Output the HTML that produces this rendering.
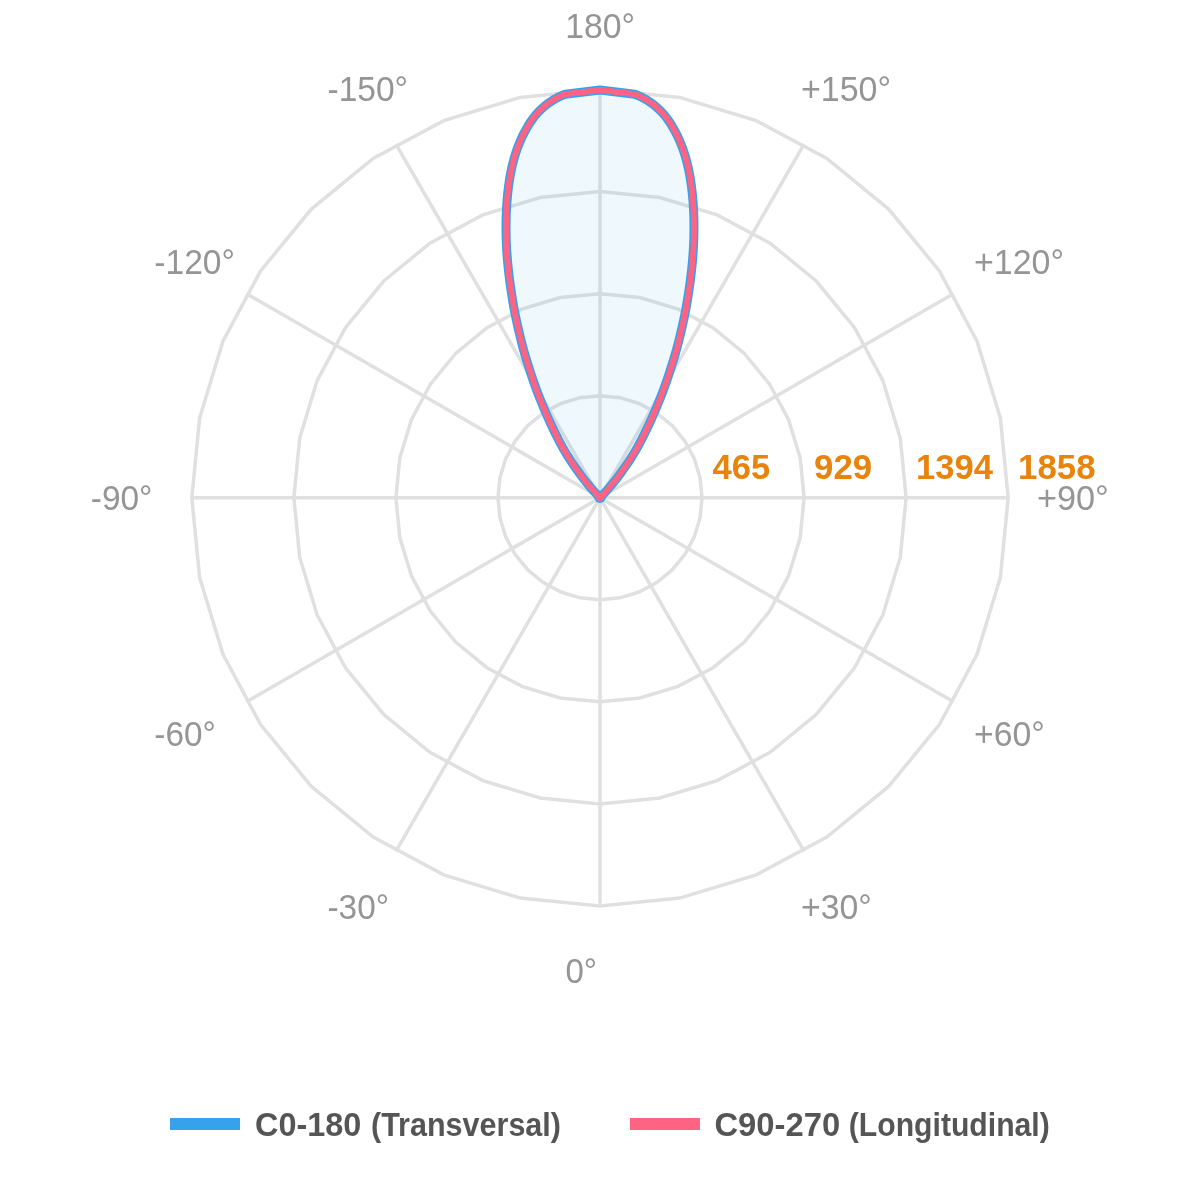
<!DOCTYPE html>
<html><head><meta charset="utf-8"><title>Polar chart</title>
<style>
html,body{margin:0;padding:0;background:#fff;}
body{width:1200px;height:1200px;overflow:hidden;font-family:"Liberation Sans",sans-serif;}
svg{display:block;will-change:transform;}
text{font-family:"Liberation Sans",sans-serif;}
.al{font-size:35.5px;fill:#959595;}
.tk{font-size:35.3px;font-weight:bold;fill:#e8830c;}
.lg{font-size:33.4px;font-weight:bold;fill:#555555;}
</style></head><body>
<svg width="1200" height="1200" viewBox="0 0 1200 1200">
<rect width="1200" height="1200" fill="#ffffff"/>
<g fill="none" stroke="#e0e0e0" stroke-width="3.5" stroke-linejoin="miter">
<polygon points="600.00,395.70 619.91,397.66 639.05,403.47 656.70,412.90 672.16,425.59 684.85,441.05 694.28,458.70 700.09,477.84 702.05,497.75 700.09,517.66 694.28,536.80 684.85,554.45 672.16,569.91 656.70,582.60 639.05,592.03 619.91,597.84 600.00,599.80 580.09,597.84 560.95,592.03 543.30,582.60 527.84,569.91 515.15,554.45 505.72,536.80 499.91,517.66 497.95,497.75 499.91,477.84 505.72,458.70 515.15,441.05 527.84,425.59 543.30,412.90 560.95,403.47 580.09,397.66"/>
<polygon points="600.00,293.65 639.82,297.57 678.11,309.19 713.39,328.05 744.32,353.43 769.70,384.36 788.56,419.64 800.18,457.93 804.10,497.75 800.18,537.57 788.56,575.86 769.70,611.14 744.32,642.07 713.39,667.45 678.11,686.31 639.82,697.93 600.00,701.85 560.18,697.93 521.89,686.31 486.61,667.45 455.68,642.07 430.30,611.14 411.44,575.86 399.82,537.57 395.90,497.75 399.82,457.93 411.44,419.64 430.30,384.36 455.68,353.43 486.61,328.05 521.89,309.19 560.18,297.57"/>
<polygon points="600.00,191.60 659.73,197.48 717.16,214.90 770.09,243.20 816.48,281.27 854.55,327.66 882.85,380.59 900.27,438.02 906.15,497.75 900.27,557.48 882.85,614.91 854.55,667.84 816.48,714.23 770.09,752.30 717.16,780.60 659.73,798.02 600.00,803.90 540.27,798.02 482.84,780.60 429.91,752.30 383.52,714.23 345.45,667.84 317.15,614.91 299.73,557.48 293.85,497.75 299.73,438.02 317.15,380.59 345.45,327.66 383.52,281.27 429.91,243.20 482.84,214.90 540.27,197.48"/>
<polygon points="600.00,89.55 679.64,97.39 756.21,120.62 826.78,158.34 888.64,209.11 939.41,270.97 977.13,341.54 1000.36,418.11 1008.20,497.75 1000.36,577.39 977.13,653.96 939.41,724.53 888.64,786.39 826.78,837.16 756.21,874.88 679.64,898.11 600.00,905.95 520.36,898.11 443.79,874.88 373.22,837.16 311.36,786.39 260.59,724.53 222.87,653.96 199.64,577.39 191.80,497.75 199.64,418.11 222.87,341.54 260.59,270.97 311.36,209.11 373.22,158.34 443.79,120.62 520.36,97.39"/>
<line x1="600.0" y1="497.75" x2="600.00" y2="89.55"/>
<line x1="600.0" y1="497.75" x2="804.10" y2="144.24"/>
<line x1="600.0" y1="497.75" x2="953.51" y2="293.65"/>
<line x1="600.0" y1="497.75" x2="1008.20" y2="497.75"/>
<line x1="600.0" y1="497.75" x2="953.51" y2="701.85"/>
<line x1="600.0" y1="497.75" x2="804.10" y2="851.26"/>
<line x1="600.0" y1="497.75" x2="600.00" y2="905.95"/>
<line x1="600.0" y1="497.75" x2="395.90" y2="851.26"/>
<line x1="600.0" y1="497.75" x2="246.49" y2="701.85"/>
<line x1="600.0" y1="497.75" x2="191.80" y2="497.75"/>
<line x1="600.0" y1="497.75" x2="246.49" y2="293.65"/>
<line x1="600.0" y1="497.75" x2="395.90" y2="144.24"/>
</g>
<path d="M600.00,497.75 L597.75,495.40 L595.53,493.03 L593.36,490.62 L591.23,488.19 L589.13,485.73 L587.08,483.24 L585.07,480.72 L583.09,478.18 L581.15,475.62 L579.25,473.03 L577.39,470.42 L575.51,467.78 L573.67,465.12 L571.86,462.44 L570.08,459.74 L568.34,457.01 L566.63,454.27 L564.95,451.50 L563.33,448.72 L561.78,445.92 L560.26,443.10 L558.77,440.26 L557.31,437.40 L555.88,434.53 L554.47,431.65 L553.07,428.75 L551.68,425.83 L550.30,422.91 L548.95,419.97 L547.63,417.02 L546.32,414.05 L545.04,411.08 L543.78,408.10 L542.54,405.11 L541.32,402.11 L540.11,399.11 L538.92,396.10 L537.75,393.08 L536.60,390.05 L535.50,387.02 L534.41,383.98 L533.35,380.94 L532.30,377.89 L531.27,374.84 L530.25,371.78 L529.25,368.71 L528.28,365.64 L527.31,362.56 L526.37,359.48 L525.44,356.39 L524.53,353.30 L523.64,350.20 L522.81,347.10 L521.99,343.99 L521.20,340.88 L520.42,337.77 L519.66,334.65 L518.92,331.52 L518.19,328.39 L517.48,325.26 L516.79,322.12 L516.12,318.98 L515.47,315.84 L514.83,312.69 L514.22,309.54 L513.65,306.39 L513.10,303.23 L512.57,300.07 L512.06,296.90 L511.57,293.73 L511.10,290.56 L510.63,287.39 L510.17,284.21 L509.74,281.03 L509.33,277.85 L508.95,274.66 L508.59,271.47 L508.24,268.28 L507.91,265.08 L507.61,261.88 L507.33,258.68 L507.07,255.48 L506.85,252.28 L506.65,249.07 L506.48,245.86 L506.34,242.64 L506.22,239.43 L506.14,236.21 L506.08,232.99 L506.06,229.77 L506.04,226.55 L506.05,223.32 L506.10,220.09 L506.17,216.86 L506.28,213.63 L506.42,210.40 L506.60,207.16 L506.81,203.92 L507.05,200.69 L507.33,197.45 L507.64,194.21 L507.99,190.96 L508.37,187.73 L508.80,184.49 L509.27,181.26 L509.78,178.05 L510.35,174.84 L510.96,171.65 L511.62,168.47 L512.34,165.31 L513.12,162.17 L513.95,159.05 L514.85,155.95 L515.80,152.88 L516.82,149.84 L517.91,146.83 L519.07,143.85 L520.29,140.91 L521.59,138.00 L522.96,135.13 L524.41,132.32 L525.93,129.55 L527.45,126.83 L529.05,124.18 L530.75,121.58 L532.53,119.06 L534.40,116.60 L536.36,114.22 L538.42,111.92 L540.64,109.70 L542.96,107.57 L545.37,105.53 L547.88,103.59 L550.50,101.75 L553.22,100.01 L556.05,98.39 L558.99,96.87 L562.04,95.47 L565.20,94.20 L600.00,90.00 L634.80,94.20 L637.96,95.47 L641.01,96.87 L643.95,98.39 L646.78,100.01 L649.50,101.75 L652.12,103.59 L654.63,105.53 L657.04,107.57 L659.36,109.70 L661.58,111.92 L663.64,114.22 L665.60,116.60 L667.47,119.06 L669.25,121.58 L670.95,124.18 L672.55,126.83 L674.07,129.55 L675.59,132.32 L677.04,135.13 L678.41,138.00 L679.71,140.91 L680.93,143.85 L682.09,146.83 L683.18,149.84 L684.20,152.88 L685.15,155.95 L686.05,159.05 L686.88,162.17 L687.66,165.31 L688.38,168.47 L689.04,171.65 L689.65,174.84 L690.22,178.05 L690.73,181.26 L691.20,184.49 L691.63,187.73 L692.01,190.96 L692.36,194.21 L692.67,197.45 L692.95,200.69 L693.19,203.92 L693.40,207.16 L693.58,210.40 L693.72,213.63 L693.83,216.86 L693.90,220.09 L693.95,223.32 L693.96,226.55 L693.94,229.77 L693.92,232.99 L693.86,236.21 L693.78,239.43 L693.66,242.64 L693.52,245.86 L693.35,249.07 L693.15,252.28 L692.93,255.48 L692.67,258.68 L692.39,261.88 L692.09,265.08 L691.76,268.28 L691.41,271.47 L691.05,274.66 L690.67,277.85 L690.26,281.03 L689.83,284.21 L689.37,287.39 L688.90,290.56 L688.43,293.73 L687.94,296.90 L687.43,300.07 L686.90,303.23 L686.35,306.39 L685.78,309.54 L685.17,312.69 L684.53,315.84 L683.88,318.98 L683.21,322.12 L682.52,325.26 L681.81,328.39 L681.08,331.52 L680.34,334.65 L679.58,337.77 L678.80,340.88 L678.01,343.99 L677.19,347.10 L676.36,350.20 L675.47,353.30 L674.56,356.39 L673.63,359.48 L672.69,362.56 L671.72,365.64 L670.75,368.71 L669.75,371.78 L668.73,374.84 L667.70,377.89 L666.65,380.94 L665.59,383.98 L664.50,387.02 L663.40,390.05 L662.25,393.08 L661.08,396.10 L659.89,399.11 L658.68,402.11 L657.46,405.11 L656.22,408.10 L654.96,411.08 L653.68,414.05 L652.37,417.02 L651.05,419.97 L649.70,422.91 L648.32,425.83 L646.93,428.75 L645.53,431.65 L644.12,434.53 L642.69,437.40 L641.23,440.26 L639.74,443.10 L638.22,445.92 L636.67,448.72 L635.05,451.50 L633.37,454.27 L631.66,457.01 L629.92,459.74 L628.14,462.44 L626.33,465.12 L624.49,467.78 L622.61,470.42 L620.75,473.03 L618.85,475.62 L616.91,478.18 L614.93,480.72 L612.92,483.24 L610.87,485.73 L608.77,488.19 L606.64,490.62 L604.47,493.03 L602.25,495.40 L600.00,497.75 Z" fill="rgba(54,162,235,0.08)" stroke="none"/>
<path d="M600.00,497.75 L597.75,495.40 L595.53,493.03 L593.36,490.62 L591.23,488.19 L589.13,485.73 L587.08,483.24 L585.07,480.72 L583.09,478.18 L581.15,475.62 L579.25,473.03 L577.39,470.42 L575.51,467.78 L573.67,465.12 L571.86,462.44 L570.08,459.74 L568.34,457.01 L566.63,454.27 L564.95,451.50 L563.33,448.72 L561.78,445.92 L560.26,443.10 L558.77,440.26 L557.31,437.40 L555.88,434.53 L554.47,431.65 L553.07,428.75 L551.68,425.83 L550.30,422.91 L548.95,419.97 L547.63,417.02 L546.32,414.05 L545.04,411.08 L543.78,408.10 L542.54,405.11 L541.32,402.11 L540.11,399.11 L538.92,396.10 L537.75,393.08 L536.60,390.05 L535.50,387.02 L534.41,383.98 L533.35,380.94 L532.30,377.89 L531.27,374.84 L530.25,371.78 L529.25,368.71 L528.28,365.64 L527.31,362.56 L526.37,359.48 L525.44,356.39 L524.53,353.30 L523.64,350.20 L522.81,347.10 L521.99,343.99 L521.20,340.88 L520.42,337.77 L519.66,334.65 L518.92,331.52 L518.19,328.39 L517.48,325.26 L516.79,322.12 L516.12,318.98 L515.47,315.84 L514.83,312.69 L514.22,309.54 L513.65,306.39 L513.10,303.23 L512.57,300.07 L512.06,296.90 L511.57,293.73 L511.10,290.56 L510.63,287.39 L510.17,284.21 L509.74,281.03 L509.33,277.85 L508.95,274.66 L508.59,271.47 L508.24,268.28 L507.91,265.08 L507.61,261.88 L507.33,258.68 L507.07,255.48 L506.85,252.28 L506.65,249.07 L506.48,245.86 L506.34,242.64 L506.22,239.43 L506.14,236.21 L506.08,232.99 L506.06,229.77 L506.04,226.55 L506.05,223.32 L506.10,220.09 L506.17,216.86 L506.28,213.63 L506.42,210.40 L506.60,207.16 L506.81,203.92 L507.05,200.69 L507.33,197.45 L507.64,194.21 L507.99,190.96 L508.37,187.73 L508.80,184.49 L509.27,181.26 L509.78,178.05 L510.35,174.84 L510.96,171.65 L511.62,168.47 L512.34,165.31 L513.12,162.17 L513.95,159.05 L514.85,155.95 L515.80,152.88 L516.82,149.84 L517.91,146.83 L519.07,143.85 L520.29,140.91 L521.59,138.00 L522.96,135.13 L524.41,132.32 L525.93,129.55 L527.45,126.83 L529.05,124.18 L530.75,121.58 L532.53,119.06 L534.40,116.60 L536.36,114.22 L538.42,111.92 L540.64,109.70 L542.96,107.57 L545.37,105.53 L547.88,103.59 L550.50,101.75 L553.22,100.01 L556.05,98.39 L558.99,96.87 L562.04,95.47 L565.20,94.20 L600.00,90.00 L634.80,94.20 L637.96,95.47 L641.01,96.87 L643.95,98.39 L646.78,100.01 L649.50,101.75 L652.12,103.59 L654.63,105.53 L657.04,107.57 L659.36,109.70 L661.58,111.92 L663.64,114.22 L665.60,116.60 L667.47,119.06 L669.25,121.58 L670.95,124.18 L672.55,126.83 L674.07,129.55 L675.59,132.32 L677.04,135.13 L678.41,138.00 L679.71,140.91 L680.93,143.85 L682.09,146.83 L683.18,149.84 L684.20,152.88 L685.15,155.95 L686.05,159.05 L686.88,162.17 L687.66,165.31 L688.38,168.47 L689.04,171.65 L689.65,174.84 L690.22,178.05 L690.73,181.26 L691.20,184.49 L691.63,187.73 L692.01,190.96 L692.36,194.21 L692.67,197.45 L692.95,200.69 L693.19,203.92 L693.40,207.16 L693.58,210.40 L693.72,213.63 L693.83,216.86 L693.90,220.09 L693.95,223.32 L693.96,226.55 L693.94,229.77 L693.92,232.99 L693.86,236.21 L693.78,239.43 L693.66,242.64 L693.52,245.86 L693.35,249.07 L693.15,252.28 L692.93,255.48 L692.67,258.68 L692.39,261.88 L692.09,265.08 L691.76,268.28 L691.41,271.47 L691.05,274.66 L690.67,277.85 L690.26,281.03 L689.83,284.21 L689.37,287.39 L688.90,290.56 L688.43,293.73 L687.94,296.90 L687.43,300.07 L686.90,303.23 L686.35,306.39 L685.78,309.54 L685.17,312.69 L684.53,315.84 L683.88,318.98 L683.21,322.12 L682.52,325.26 L681.81,328.39 L681.08,331.52 L680.34,334.65 L679.58,337.77 L678.80,340.88 L678.01,343.99 L677.19,347.10 L676.36,350.20 L675.47,353.30 L674.56,356.39 L673.63,359.48 L672.69,362.56 L671.72,365.64 L670.75,368.71 L669.75,371.78 L668.73,374.84 L667.70,377.89 L666.65,380.94 L665.59,383.98 L664.50,387.02 L663.40,390.05 L662.25,393.08 L661.08,396.10 L659.89,399.11 L658.68,402.11 L657.46,405.11 L656.22,408.10 L654.96,411.08 L653.68,414.05 L652.37,417.02 L651.05,419.97 L649.70,422.91 L648.32,425.83 L646.93,428.75 L645.53,431.65 L644.12,434.53 L642.69,437.40 L641.23,440.26 L639.74,443.10 L638.22,445.92 L636.67,448.72 L635.05,451.50 L633.37,454.27 L631.66,457.01 L629.92,459.74 L628.14,462.44 L626.33,465.12 L624.49,467.78 L622.61,470.42 L620.75,473.03 L618.85,475.62 L616.91,478.18 L614.93,480.72 L612.92,483.24 L610.87,485.73 L608.77,488.19 L606.64,490.62 L604.47,493.03 L602.25,495.40 L600.00,497.75 Z" fill="none" stroke="#36a2eb" stroke-width="9" stroke-linejoin="round"/>
<circle cx="600" cy="497.3" r="5.6" fill="#36a2eb"/>
<path d="M600.00,497.75 L597.75,495.40 L595.53,493.03 L593.36,490.62 L591.23,488.19 L589.13,485.73 L587.08,483.24 L585.07,480.72 L583.09,478.18 L581.15,475.62 L579.25,473.03 L577.39,470.42 L575.51,467.78 L573.67,465.12 L571.86,462.44 L570.08,459.74 L568.34,457.01 L566.63,454.27 L564.95,451.50 L563.33,448.72 L561.78,445.92 L560.26,443.10 L558.77,440.26 L557.31,437.40 L555.88,434.53 L554.47,431.65 L553.07,428.75 L551.68,425.83 L550.30,422.91 L548.95,419.97 L547.63,417.02 L546.32,414.05 L545.04,411.08 L543.78,408.10 L542.54,405.11 L541.32,402.11 L540.11,399.11 L538.92,396.10 L537.75,393.08 L536.60,390.05 L535.50,387.02 L534.41,383.98 L533.35,380.94 L532.30,377.89 L531.27,374.84 L530.25,371.78 L529.25,368.71 L528.28,365.64 L527.31,362.56 L526.37,359.48 L525.44,356.39 L524.53,353.30 L523.64,350.20 L522.81,347.10 L521.99,343.99 L521.20,340.88 L520.42,337.77 L519.66,334.65 L518.92,331.52 L518.19,328.39 L517.48,325.26 L516.79,322.12 L516.12,318.98 L515.47,315.84 L514.83,312.69 L514.22,309.54 L513.65,306.39 L513.10,303.23 L512.57,300.07 L512.06,296.90 L511.57,293.73 L511.10,290.56 L510.63,287.39 L510.17,284.21 L509.74,281.03 L509.33,277.85 L508.95,274.66 L508.59,271.47 L508.24,268.28 L507.91,265.08 L507.61,261.88 L507.33,258.68 L507.07,255.48 L506.85,252.28 L506.65,249.07 L506.48,245.86 L506.34,242.64 L506.22,239.43 L506.14,236.21 L506.08,232.99 L506.06,229.77 L506.04,226.55 L506.05,223.32 L506.10,220.09 L506.17,216.86 L506.28,213.63 L506.42,210.40 L506.60,207.16 L506.81,203.92 L507.05,200.69 L507.33,197.45 L507.64,194.21 L507.99,190.96 L508.37,187.73 L508.80,184.49 L509.27,181.26 L509.78,178.05 L510.35,174.84 L510.96,171.65 L511.62,168.47 L512.34,165.31 L513.12,162.17 L513.95,159.05 L514.85,155.95 L515.80,152.88 L516.82,149.84 L517.91,146.83 L519.07,143.85 L520.29,140.91 L521.59,138.00 L522.96,135.13 L524.41,132.32 L525.93,129.55 L527.45,126.83 L529.05,124.18 L530.75,121.58 L532.53,119.06 L534.40,116.60 L536.36,114.22 L538.42,111.92 L540.64,109.70 L542.96,107.57 L545.37,105.53 L547.88,103.59 L550.50,101.75 L553.22,100.01 L556.05,98.39 L558.99,96.87 L562.04,95.47 L565.20,94.20 L600.00,90.00 L634.80,94.20 L637.96,95.47 L641.01,96.87 L643.95,98.39 L646.78,100.01 L649.50,101.75 L652.12,103.59 L654.63,105.53 L657.04,107.57 L659.36,109.70 L661.58,111.92 L663.64,114.22 L665.60,116.60 L667.47,119.06 L669.25,121.58 L670.95,124.18 L672.55,126.83 L674.07,129.55 L675.59,132.32 L677.04,135.13 L678.41,138.00 L679.71,140.91 L680.93,143.85 L682.09,146.83 L683.18,149.84 L684.20,152.88 L685.15,155.95 L686.05,159.05 L686.88,162.17 L687.66,165.31 L688.38,168.47 L689.04,171.65 L689.65,174.84 L690.22,178.05 L690.73,181.26 L691.20,184.49 L691.63,187.73 L692.01,190.96 L692.36,194.21 L692.67,197.45 L692.95,200.69 L693.19,203.92 L693.40,207.16 L693.58,210.40 L693.72,213.63 L693.83,216.86 L693.90,220.09 L693.95,223.32 L693.96,226.55 L693.94,229.77 L693.92,232.99 L693.86,236.21 L693.78,239.43 L693.66,242.64 L693.52,245.86 L693.35,249.07 L693.15,252.28 L692.93,255.48 L692.67,258.68 L692.39,261.88 L692.09,265.08 L691.76,268.28 L691.41,271.47 L691.05,274.66 L690.67,277.85 L690.26,281.03 L689.83,284.21 L689.37,287.39 L688.90,290.56 L688.43,293.73 L687.94,296.90 L687.43,300.07 L686.90,303.23 L686.35,306.39 L685.78,309.54 L685.17,312.69 L684.53,315.84 L683.88,318.98 L683.21,322.12 L682.52,325.26 L681.81,328.39 L681.08,331.52 L680.34,334.65 L679.58,337.77 L678.80,340.88 L678.01,343.99 L677.19,347.10 L676.36,350.20 L675.47,353.30 L674.56,356.39 L673.63,359.48 L672.69,362.56 L671.72,365.64 L670.75,368.71 L669.75,371.78 L668.73,374.84 L667.70,377.89 L666.65,380.94 L665.59,383.98 L664.50,387.02 L663.40,390.05 L662.25,393.08 L661.08,396.10 L659.89,399.11 L658.68,402.11 L657.46,405.11 L656.22,408.10 L654.96,411.08 L653.68,414.05 L652.37,417.02 L651.05,419.97 L649.70,422.91 L648.32,425.83 L646.93,428.75 L645.53,431.65 L644.12,434.53 L642.69,437.40 L641.23,440.26 L639.74,443.10 L638.22,445.92 L636.67,448.72 L635.05,451.50 L633.37,454.27 L631.66,457.01 L629.92,459.74 L628.14,462.44 L626.33,465.12 L624.49,467.78 L622.61,470.42 L620.75,473.03 L618.85,475.62 L616.91,478.18 L614.93,480.72 L612.92,483.24 L610.87,485.73 L608.77,488.19 L606.64,490.62 L604.47,493.03 L602.25,495.40 L600.00,497.75 Z" fill="none" stroke="#ff6384" stroke-width="5.8" stroke-linejoin="round"/>
<circle cx="600" cy="497.0" r="4.1" fill="#ff6384"/>
<text class="al" x="565.13" y="37.6" textLength="69.90" lengthAdjust="spacingAndGlyphs">180°</text>
<text class="al" x="327.51" y="100.8" textLength="80.50" lengthAdjust="spacingAndGlyphs">-150°</text>
<text class="al" x="801.04" y="100.8" textLength="89.99" lengthAdjust="spacingAndGlyphs">+150°</text>
<text class="al" x="154.31" y="273.8" textLength="80.61" lengthAdjust="spacingAndGlyphs">-120°</text>
<text class="al" x="974.04" y="273.8" textLength="89.99" lengthAdjust="spacingAndGlyphs">+120°</text>
<text class="al" x="90.82" y="510.4" textLength="61.59" lengthAdjust="spacingAndGlyphs">-90°</text>
<text class="al" x="1037.03" y="510.4" textLength="71.73" lengthAdjust="spacingAndGlyphs">+90°</text>
<text class="al" x="154.32" y="746.2" textLength="61.43" lengthAdjust="spacingAndGlyphs">-60°</text>
<text class="al" x="974.05" y="746.2" textLength="70.78" lengthAdjust="spacingAndGlyphs">+60°</text>
<text class="al" x="327.52" y="919.3" textLength="61.48" lengthAdjust="spacingAndGlyphs">-30°</text>
<text class="al" x="801.05" y="919.3" textLength="70.78" lengthAdjust="spacingAndGlyphs">+30°</text>
<text class="al" x="565.41" y="983.2" textLength="31.57" lengthAdjust="spacingAndGlyphs">0°</text>
<text class="tk" x="712.48" y="479.4" textLength="57.69" lengthAdjust="spacingAndGlyphs">465</text>
<text class="tk" x="814.09" y="479.4" textLength="57.99" lengthAdjust="spacingAndGlyphs">929</text>
<text class="tk" x="916.12" y="479.4" textLength="76.86" lengthAdjust="spacingAndGlyphs">1394</text>
<text class="tk" x="1018.11" y="479.4" textLength="77.46" lengthAdjust="spacingAndGlyphs">1858</text>
<rect x="170" y="1118" width="70" height="12" fill="#36a2eb"/>
<text class="lg" x="254.97" y="1135.5" textLength="106.36" lengthAdjust="spacingAndGlyphs">C0-180</text>
<text class="lg" x="370.99" y="1135.5" textLength="190.01" lengthAdjust="spacingAndGlyphs">(Transversal)</text>
<rect x="630" y="1118" width="70" height="12" fill="#ff6384"/>
<text class="lg" x="714.46" y="1135.5" textLength="125.69" lengthAdjust="spacingAndGlyphs">C90-270</text>
<text class="lg" x="848.80" y="1135.5" textLength="201.00" lengthAdjust="spacingAndGlyphs">(Longitudinal)</text>
</svg>
</body></html>
